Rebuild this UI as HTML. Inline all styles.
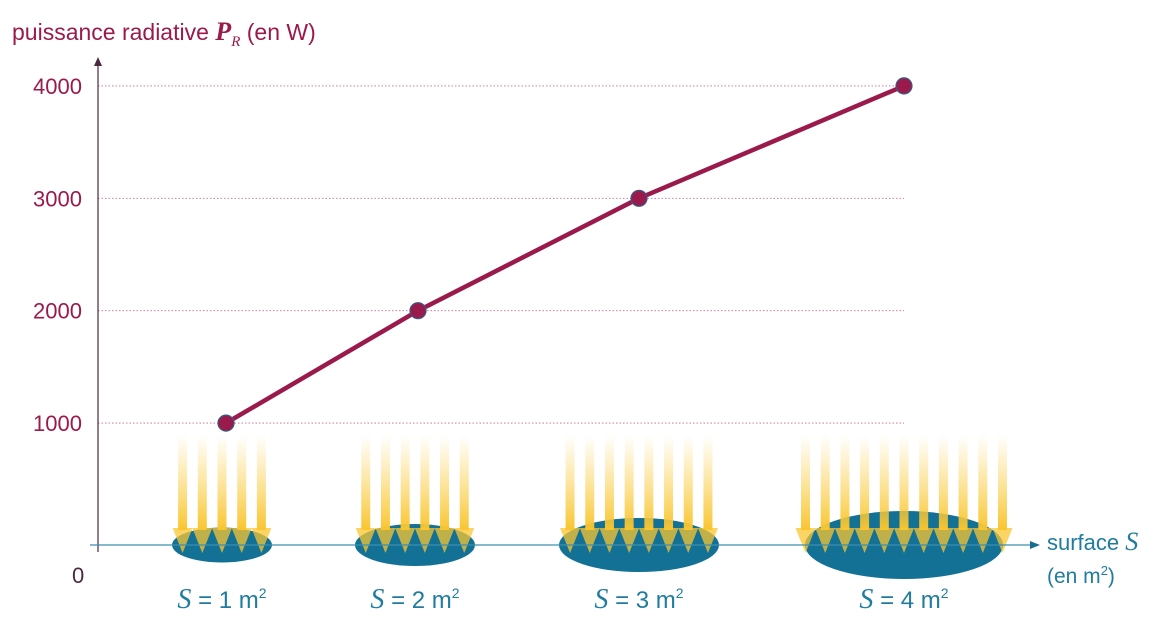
<!DOCTYPE html>
<html><head><meta charset="utf-8"><style>
body{margin:0;background:#fff}
svg{display:block;font-family:"Liberation Sans",sans-serif}
</style></head><body>
<svg id="c" width="1171" height="626" viewBox="0 0 1171 626">
<defs>
<linearGradient id="ray" x1="0" y1="0" x2="0" y2="1">
<stop offset="0" stop-color="#fbd24e" stop-opacity="0"/>
<stop offset="1" stop-color="#f9c52f" stop-opacity="1"/>
</linearGradient>
</defs>
<g id="grid"></g>
<g id="illus"></g>
<line x1="98" y1="552" x2="98" y2="64" stroke="#4a2a3f" stroke-width="1.2"/>
<polygon points="98,57 94,66 102,66" fill="#4a2a3f"/>
<line x1="90" y1="545" x2="1032" y2="545" stroke="#3a8fb0" stroke-width="1.2"/>
<polygon points="1040,545 1030,541 1030,549" fill="#1a6e93"/>
<text x="12" y="40" font-size="23" fill="#9b1a4c">puissance radiative <tspan font-family="Liberation Serif" font-style="italic" font-weight="bold" font-size="26">P</tspan><tspan font-family="Liberation Serif" font-style="italic" font-size="15" dy="6">R</tspan><tspan dy="-6"> (en W)</tspan></text>
<text x="1047" y="550" font-size="22" fill="#1f7ca0">surface <tspan font-family="Liberation Serif" font-style="italic" font-size="26">S</tspan></text>
<text x="1047" y="583" font-size="21" fill="#1f7ca0">(en m<tspan font-size="13" dy="-8">2</tspan><tspan dy="8">)</tspan></text>
<text x="72" y="583" font-size="22" fill="#4a2a3f">0</text>
<g id="ticks"></g>
<g id="series"></g>
</svg>
<script>
const categories=[1,2,3,4];
const values=[1000,2000,3000,4000];
const yTicks=[1000,2000,3000,4000];
const rayCounts=[5,6,8,11];
const NS="http://www.w3.org/2000/svg";
const svg=document.getElementById('c');
const yS=v=>535.5-v*0.1124;
const centers=[222,415,639,904];
const widths=[100,120,160,198];
const heights=[35,42,54,68];
function mk(t,a,p){const e=document.createElementNS(NS,t);for(const k in a)e.setAttribute(k,a[k]);p.appendChild(e);return e;}
const grid=document.getElementById('grid'),ticks=document.getElementById('ticks');
yTicks.forEach(v=>{
 const l=mk('line',{x1:98,x2:904,y1:yS(v),y2:yS(v),stroke:'#c56a92','stroke-width':0.9,'stroke-dasharray':'1.5 2'},grid);
 
 
 const t=mk('text',{x:82,y:yS(v)+8,'font-size':22,'text-anchor':'end',fill:'#9b1a4c'},ticks);
 t.textContent=v;
 
 
});
const il=document.getElementById('illus');
categories.forEach((s,i)=>{
 const cx=centers[i],w=widths[i],h=heights[i];
 const e=mk('ellipse',{cx:cx,cy:545,rx:w/2,ry:h/2,fill:'#137196'},il);
 
 
 const n=rayCounts[i],sp=19.7,x0=cx-(n-1)*sp/2;
 for(let k=0;k<n;k++){
  const x=x0+k*sp;
  const r=mk('rect',{x:x-4.5,y:435,width:9,height:95,fill:'url(#ray)'},il);
  
  
  const a=mk('polygon',{points:`${x-10},528 ${x+10},528 ${x},553`,fill:'#f9c52f','fill-opacity':0.75},il);
  
  
 }
 const t=mk('text',{x:cx,y:608,'font-size':24,'text-anchor':'middle',fill:'#1f7ca0'},il);
 t.innerHTML=`<tspan font-family="Liberation Serif" font-style="italic" font-size="28">S</tspan> = ${s} m<tspan font-size="14" dy="-10">2</tspan>`;
 
 
});
const ser=document.getElementById('series');
const pts=values.map((v,i)=>[centers[i]+(i==0?4:i==1?3:0),yS(v)]);
const pl=mk('polyline',{points:pts.map(p=>p.join(',')).join(' '),fill:'none',stroke:'#9b1a4c','stroke-width':4.5,'stroke-linejoin':'round'},ser);


pts.forEach((p,i)=>{
 const c=mk('circle',{cx:p[0],cy:p[1],r:8,fill:'#9b1a4c',stroke:'#3a5a80','stroke-width':1.2},ser);
 
 
});
</script>
</body></html>
